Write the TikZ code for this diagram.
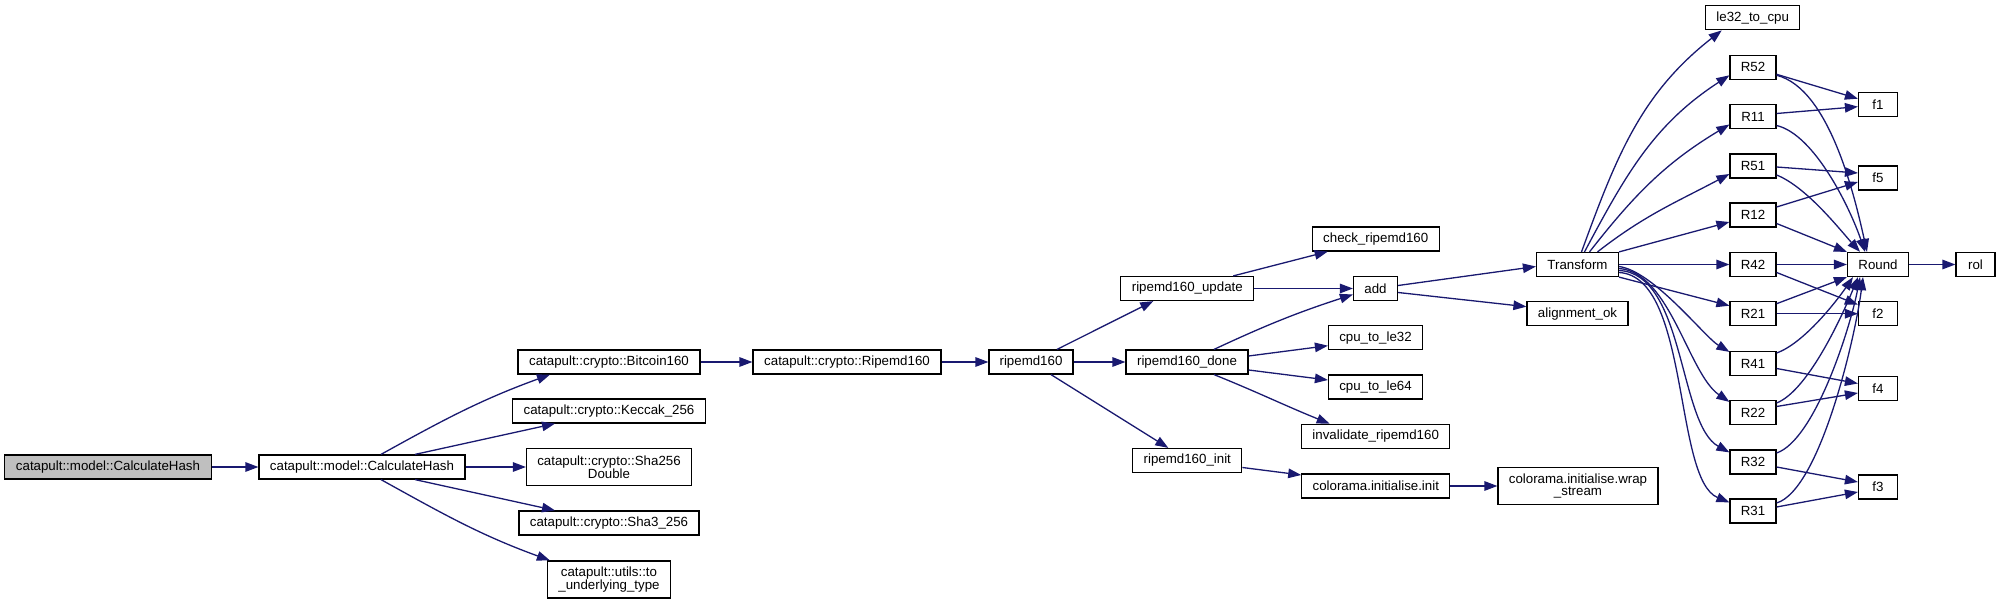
\documentclass[tikz,border=0pt]{standalone}
\usepackage{fontspec}
\setmainfont{Liberation Sans}
\usetikzlibrary{arrows.meta}
\definecolor{edgeblue}{HTML}{191970}
\definecolor{rootgray}{HTML}{BFBFBF}
\begin{document}
\begin{tikzpicture}[x=1pt,y=-1pt,
  fn/.style={draw=black, line width=1.2pt, fill=white, rectangle, inner sep=0pt,
    align=center, font=\fontsize{13.3}{13}\selectfont},
  sz/.style 2 args={minimum width=#1pt, minimum height=#2pt},
  e/.style={draw=edgeblue, line width=1.3pt, -{Triangle[length=13pt,width=9.5pt]}}]
\useasboundingbox[fill=white] (0,0) rectangle (2000,604);

% nodes
\node[fn, sz={207}{24}, fill=rootgray] (root) at (108,467) {catapult::model::CalculateHash};
\node[fn, sz={206}{24}] (ch) at (362,467) {catapult::model::CalculateHash};
\node[fn, sz={182}{24}] (btc) at (609,362) {catapult::crypto::Bitcoin160};
\node[fn, sz={193}{24}] (kec) at (609,411) {catapult::crypto::Keccak\_256};
\node[fn, sz={165}{37}] (sha256) at (609,467) {catapult::crypto::Sha256\\Double};
\node[fn, sz={180}{24}] (sha3) at (609,523) {catapult::crypto::Sha3\_256};
\node[fn, sz={123}{37}] (tout) at (609,579.5) {catapult::utils::to\\\_underlying\_type};
\node[fn, sz={188}{24}] (rip) at (847,362) {catapult::crypto::Ripemd160};
\node[fn, sz={84}{24}] (r160) at (1031,362) {ripemd160};
\node[fn, sz={133}{24}] (upd) at (1187.3,288.5) {ripemd160\_update};
\node[fn, sz={122}{24}] (done) at (1187,362) {ripemd160\_done};
\node[fn, sz={109}{24}] (init) at (1187.3,460.5) {ripemd160\_init};
\node[fn, sz={127}{24}] (check) at (1375.7,239) {check\_ripemd160};
\node[fn, sz={44}{24}] (add) at (1375.5,288.5) {add};
\node[fn, sz={94}{24}] (le32) at (1375.5,337.7) {cpu\_to\_le32};
\node[fn, sz={94}{24}] (le64) at (1375.5,387) {cpu\_to\_le64};
\node[fn, sz={148}{24}] (inv) at (1375.7,436.3) {invalidate\_ripemd160};
\node[fn, sz={148}{24}] (cinit) at (1375.8,486) {colorama.initialise.init};
\node[fn, sz={160}{37}] (wrap) at (1578,486) {colorama.initialise.wrap\\\_stream};
\node[fn, sz={82}{24}] (transform) at (1577.5,264.5) {Transform};
\node[fn, sz={101}{24}] (align) at (1577.5,313.7) {alignment\_ok};
\node[fn, sz={94}{24}] (le32cpu) at (1752.7,17.8) {le32\_to\_cpu};
\node[fn, sz={46}{24}] (R52) at (1753,67.3) {R52};
\node[fn, sz={46}{24}] (R11) at (1753,116.5) {R11};
\node[fn, sz={46}{24}] (R51) at (1753,166) {R51};
\node[fn, sz={46}{24}] (R12) at (1753,215) {R12};
\node[fn, sz={46}{24}] (R42) at (1753,264.5) {R42};
\node[fn, sz={46}{24}] (R21) at (1753,313.7) {R21};
\node[fn, sz={46}{24}] (R41) at (1753,363.5) {R41};
\node[fn, sz={46}{24}] (R22) at (1753,412.5) {R22};
\node[fn, sz={46}{24}] (R32) at (1753,462) {R32};
\node[fn, sz={46}{24}] (R31) at (1753,511) {R31};
\node[fn, sz={39}{24}] (f1) at (1878,104.7) {f1};
\node[fn, sz={39}{24}] (f5) at (1878,178) {f5};
\node[fn, sz={61}{24}] (round) at (1878,264.5) {Round};
\node[fn, sz={39}{24}] (f2) at (1878,313.7) {f2};
\node[fn, sz={39}{24}] (f4) at (1878,388.5) {f4};
\node[fn, sz={39}{24}] (f3) at (1878,487) {f3};
\node[fn, sz={39}{24}] (rol) at (1975.5,264.5) {rol};

% edges, left part
\draw[e] (root) -- (ch);
\draw[e] ([xshift=19pt]ch.north) to[out=29,in=200] ([xshift=-59pt]btc.south);
\draw[e] ([xshift=53pt]ch.north) -- ([xshift=-54pt]kec.south);
\draw[e] (ch) -- (sha256);
\draw[e] ([xshift=53pt]ch.south) -- ([xshift=-54pt]sha3.north);
\draw[e] ([xshift=19pt]ch.south) to[out=-29,in=160] ([xshift=3pt]tout.north west);
\draw[e] (btc) -- (rip);
\draw[e] (rip) -- (r160);

% ripemd160 part
\draw[e] ([xshift=26pt]r160.north) -- ([xshift=-34pt]upd.south);
\draw[e] (r160) -- (done);
\draw[e] ([xshift=20pt]r160.south) -- ([xshift=-19pt]init.north);
\draw[e] ([xshift=46pt]upd.north) -- ([xshift=-48pt]check.south);
\draw[e] (upd) -- (add);
\draw[e] ([xshift=27pt]done.north) to[out=25,in=198] ([yshift=-6pt]add.west);
\draw[e] ([yshift=6pt]done.east) -- ([yshift=-8pt]le32.west);
\draw[e] ([yshift=-8pt]done.east) -- ([yshift=7pt]le64.west);
\draw[e] ([xshift=27pt]done.south) to[out=-22,in=158] ([xshift=-46pt]inv.north);
\draw[e] ([yshift=-7pt]init.east) -- ([yshift=11pt]cinit.west);
\draw[e] (cinit.east) -- (cinit.east -| wrap.west);
\draw[e] ([yshift=3pt]add.east) -- ([yshift=-2pt]transform.west);
\draw[e] ([yshift=-4pt]add.east) -- ([yshift=7pt]align.west);

% Transform fan-out
\draw[e] ([xshift=4pt]transform.north) to[out=70,in=218] ([xshift=-31pt]le32cpu.south);
\draw[e] ([xshift=7pt]transform.north) to[out=62,in=213] ([yshift=-8pt]R52.west);
\draw[e] ([xshift=12pt]transform.north) to[out=52,in=211] ([yshift=-8pt]R11.west);
\draw[e] ([xshift=20pt]transform.north) to[out=38,in=208] ([yshift=-8pt]R51.west);
\draw[e] (transform.north east) -- ([yshift=-7pt]R12.west);
\draw[e] (transform) -- (R42);
\draw[e] (transform.south east) -- ([yshift=8pt]R21.west);
\draw[e] ([yshift=-2pt]transform.east) .. controls +(35,5) and +(-25,-15) .. ([yshift=-1pt]R41.north west);
\draw[e] ([yshift=-4pt]transform.east) .. controls +(51,4) and +(-41,-28) .. ([yshift=-2pt]R22.north west);
\draw[e] ([yshift=-6pt]transform.east) .. controls +(66,3) and +(-51,-28) .. ([yshift=-3pt]R32.north west);
\draw[e] ([yshift=-8pt]transform.east) .. controls +(71,4) and +(-56,-23) .. ([yshift=-4pt]R31.north west);

% R -> f
\draw[e] ([yshift=-7pt]R52.east) -- ([yshift=6pt]f1.west);
\draw[e] ([yshift=3pt]R11.east) -- ([yshift=-2pt]f1.west);
\draw[e] ([yshift=-1pt]R51.east) -- ([yshift=5pt]f5.west);
\draw[e] ([yshift=8pt]R12.east) -- ([yshift=-4pt]f5.west);
\draw[e] ([yshift=-8pt]R42.east) -- ([yshift=9pt]f2.west);
\draw[e] (R21) -- (f2);
\draw[e] ([yshift=-5pt]R41.east) -- ([yshift=5pt]f4.west);
\draw[e] ([yshift=6pt]R22.east) -- ([yshift=-4.5pt]f4.west);
\draw[e] ([yshift=-5pt]R32.east) -- ([yshift=5pt]f3.west);
\draw[e] ([yshift=4pt]R31.east) -- ([yshift=-5pt]f3.west);

% R -> Round
\draw[e] ([yshift=-8pt]R52.east) .. controls +(53,13) and +(-12,-54) .. ([xshift=-11pt]round.north);
\draw[e] ([yshift=-9pt]R11.east) .. controls +(38,9) and +(-15,-44) .. ([xshift=-13pt]round.north);
\draw[e] ([yshift=-9pt]R51.east) .. controls +(30,12) and +(-20,-22) .. ([xshift=-18pt]round.north);
\draw[e] ([yshift=-8.5pt]R12.east) -- (round.north west);
\draw[e] (R42) -- (round);
\draw[e] ([yshift=10pt]R21.east) -- (round.south west);
\draw[e] ([yshift=10.5pt]R41.east) .. controls +(28,-10) and +(-15,22) .. ([xshift=-25pt]round.south);
\draw[e] ([yshift=9.5pt]R22.east) .. controls +(33,-13) and +(-13,32) .. ([xshift=-20pt]round.south);
\draw[e] ([yshift=9pt]R32.east) .. controls +(38,-13) and +(-10,52) .. ([xshift=-18pt]round.south);
\draw[e] ([yshift=8pt]R31.east) .. controls +(43,-13) and +(-8,62) .. ([xshift=-15pt]round.south);
\draw[e] (round) -- (rol);
\end{tikzpicture}
\end{document}
